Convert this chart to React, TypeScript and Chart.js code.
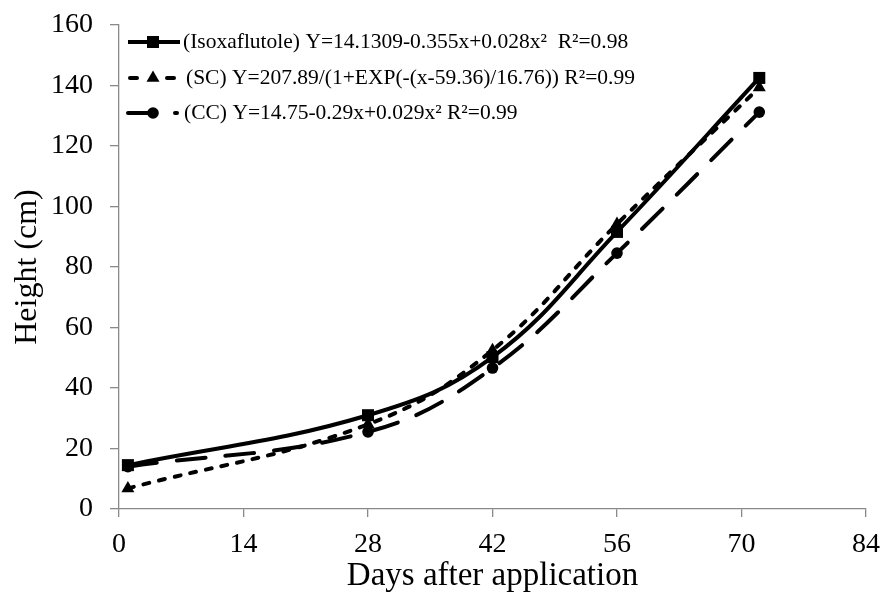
import React, { useEffect, useRef } from "react";
import { Chart, registerables } from "chart.js";
Chart.register(...registerables);

// ---- data ----
const days = [1, 28, 42, 56, 72];
const isoxaflutole = [14.5, 31, 50.2, 91.6, 142.5];
const sc = [6.8, 28, 52.5, 94.2, 139.3];
const cc = [14, 25.5, 46.6, 84.6, 131.2];
const xTickStep = 14;
const xMax = 84;
const yMax = 160;
const yTickStep = 20;
const legendLabels = [
  "(Isoxaflutole) Y=14.1309-0.355x+0.028x\u00b2  R\u00b2=0.98",
  "(SC) Y=207.89/(1+EXP(-(x-59.36)/16.76)) R\u00b2=0.99",
  "(CC) Y=14.75-0.29x+0.029x\u00b2 R\u00b2=0.99",
];
const xTitle = "Days after application";
const yTitle = "Height (cm)";

const FONT = "'Liberation Serif', 'Times New Roman', serif";
const AXIS_COLOR = "#898989";

const seriesStyles = [
  { dash: [] as number[], point: "rect", radius: 8.5 },
  { dash: [6, 10], point: "triangle", radius: 7.5 },
  { dash: [29, 20], point: "circle", radius: 5.8 },
];

function drawMarker(ctx: CanvasRenderingContext2D, style: string, r: number, x: number, y: number) {
  ctx.beginPath();
  if (style === "rect") {
    const s = r * Math.SQRT1_2;
    ctx.rect(x - s, y - s, 2 * s, 2 * s);
  } else if (style === "triangle") {
    ctx.moveTo(x, y - r);
    ctx.lineTo(x + r * 0.866, y + r * 0.5);
    ctx.lineTo(x - r * 0.866, y + r * 0.5);
    ctx.closePath();
  } else {
    ctx.arc(x, y, r, 0, Math.PI * 2);
  }
  ctx.fillStyle = "#000";
  ctx.fill();
}

// legend sample segments per row: [x0, x1] pairs
const legendSegments = [
  [[128, 180]],
  [[130, 137], [167, 174]],
  [[128, 152], [175, 177]],
];
const legendTextX = [183, 186, 184];

const legendPlugin = {
  id: "customLegend",
  afterDraw(chart: any) {
    const ctx = chart.ctx as CanvasRenderingContext2D;
    const rows = [42, 78, 113];
    ctx.save();
    legendLabels.forEach((label, i) => {
      const y = rows[i];
      const st = seriesStyles[i];
      ctx.strokeStyle = "#000";
      ctx.lineWidth = 4;
      ctx.lineCap = i === 0 ? "butt" : "round";
      legendSegments[i].forEach(([a, b]) => {
        ctx.beginPath();
        ctx.moveTo(a, y);
        ctx.lineTo(b, y);
        ctx.stroke();
      });
      drawMarker(ctx, st.point, st.radius, 153, y);
      ctx.fillStyle = "#000";
      ctx.font = `21.5px ${FONT}`;
      ctx.textBaseline = "middle";
      ctx.textAlign = "left";
      ctx.fillText(label, legendTextX[i], y);
    });
    ctx.restore();
  },
};

export default function App() {
  const ref = useRef<HTMLCanvasElement>(null);
  useEffect(() => {
    if (!ref.current) return;
    const mk = (vals: number[], i: number, label: string) => ({
      label,
      data: days.map((d, k) => ({ x: d, y: vals[k] })),
      showLine: true,
      borderColor: "#000",
      backgroundColor: "#000",
      borderWidth: 4,
      borderDash: seriesStyles[i].dash,
      borderCapStyle: seriesStyles[i].dash.length ? "round" : "butt",
      tension: 0.4,
      pointStyle: seriesStyles[i].point,
      pointRadius: seriesStyles[i].radius,
      pointBorderWidth: 0,
      pointBackgroundColor: "#000",
    });
    const chart = new Chart(ref.current, {
      type: "scatter",
      data: {
        datasets: [
          mk(cc, 2, "CC"),
          mk(sc, 1, "SC"),
          mk(isoxaflutole, 0, "Isoxaflutole"),
        ] as any,
      },
      options: {
        animation: false,
        responsive: false,
        maintainAspectRatio: false,
        layout: { padding: { top: 25, right: 17, left: 0, bottom: 0 } },
        plugins: { legend: { display: false }, tooltip: { enabled: false } },
        scales: {
          x: {
            type: "linear",
            min: 0,
            max: xMax,
            afterFit: (s: any) => { s.height = 84; s.paddingLeft = 0; s.paddingRight = 0; },
            ticks: { stepSize: xTickStep, color: "#000", font: { family: FONT, size: 28 }, padding: 11 },
            grid: { display: true, drawOnChartArea: false, drawTicks: true, tickLength: 8, color: AXIS_COLOR, lineWidth: 1.3 },
            border: { color: AXIS_COLOR, width: 1.3 },
            title: { display: true, text: xTitle, color: "#000", font: { family: FONT, size: 33, lineHeight: 1 }, padding: { top: 0, bottom: 0.5 } },
          },
          y: {
            type: "linear",
            min: 0,
            max: yMax,
            afterFit: (s: any) => { s.width = 119; s.paddingTop = 0; s.paddingBottom = 0; },
            ticks: { stepSize: yTickStep, color: "#000", font: { family: FONT, size: 28 }, padding: 17 },
            grid: { display: true, drawOnChartArea: false, drawTicks: true, tickLength: 9, color: AXIS_COLOR, lineWidth: 1.3 },
            border: { color: AXIS_COLOR, width: 1.3 },
            title: { display: true, text: yTitle, color: "#000", font: { family: FONT, size: 32, lineHeight: 1 }, padding: { top: 12, bottom: 0 } },
          },
        },
      } as any,
      plugins: [legendPlugin],
    });
    return () => chart.destroy();
  }, []);
  return (
    <div style={{ position: "absolute", left: 0, top: 0, width: 883, height: 593, background: "#fff" }}>
      <canvas ref={ref} width={883} height={593} style={{ width: 883, height: 593, display: "block" }} />
    </div>
  );
}
